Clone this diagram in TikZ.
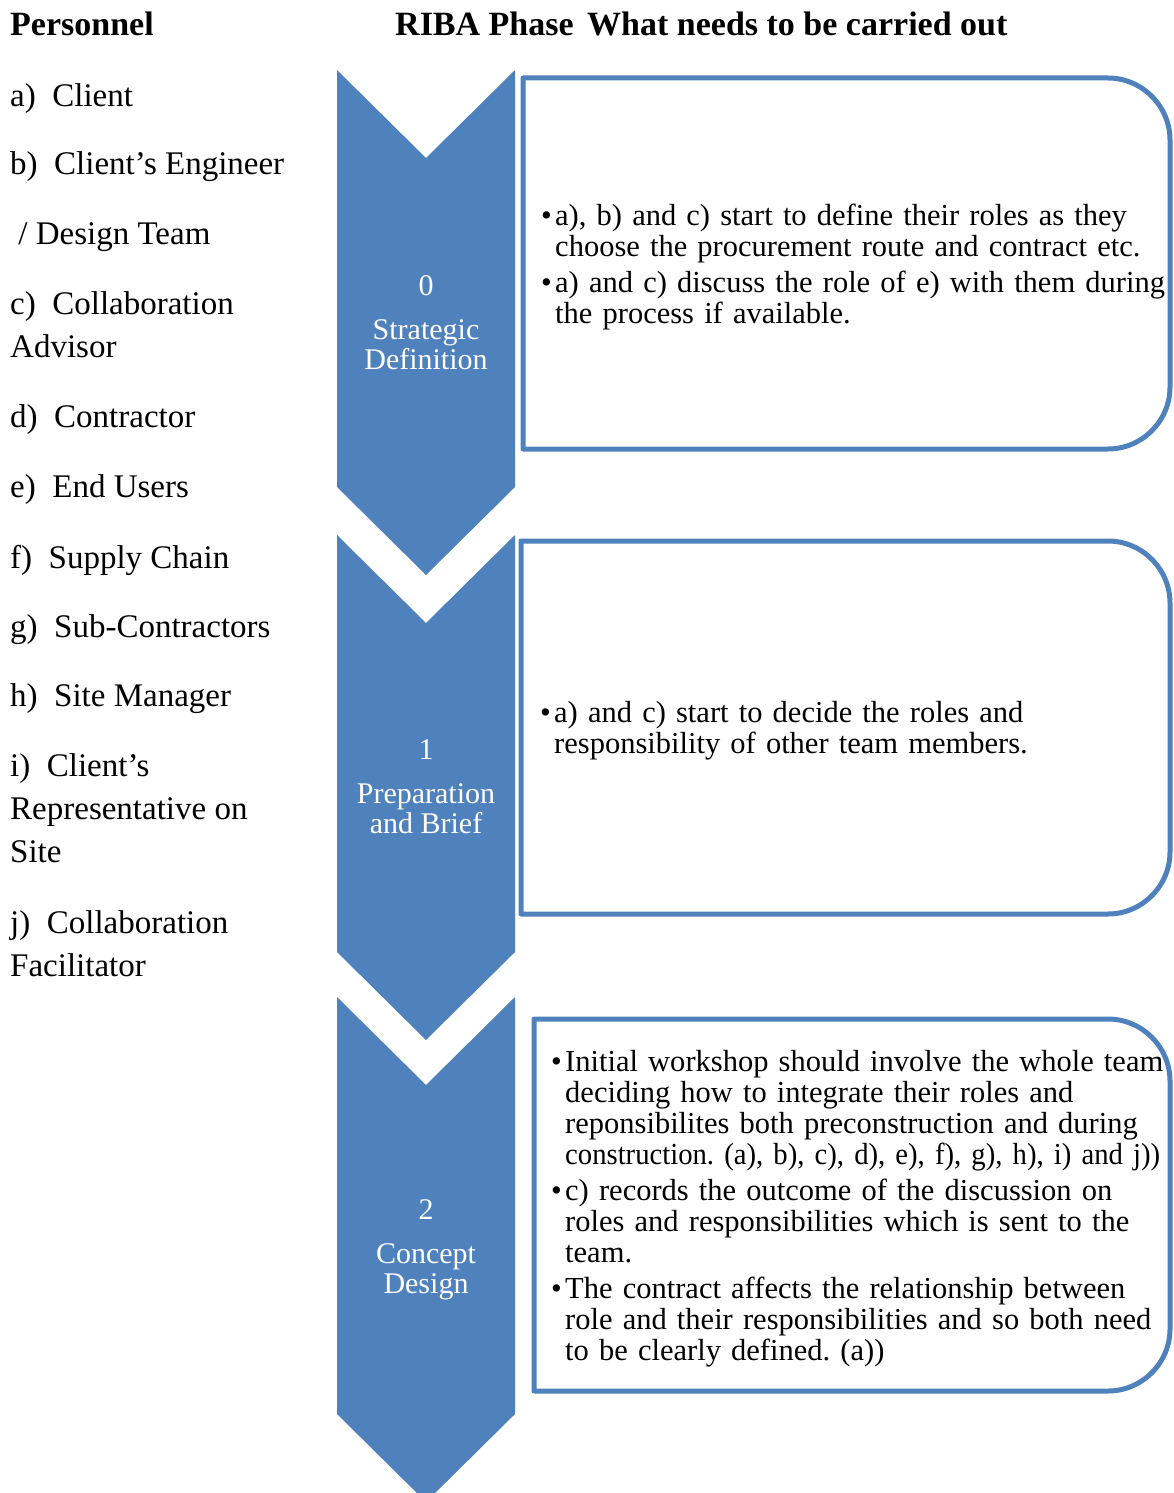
\documentclass[tikz,border=0pt]{standalone}
\usepackage{fontspec}
\setmainfont{Liberation Serif}
\newfontfamily\narrowfont[FakeStretch=0.94]{Liberation Serif}
\usepackage{tikz}
\definecolor{ribablue}{RGB}{79,129,189}
% chevron for one phase, #1 = top of its shoulders
\newcommand{\phasearrow}[1]{\fill[ribablue] (337,#1) -- (426,#1+88) -- (515,#1) -- (515,#1+417) -- (426,#1+505) -- (337,#1+417) -- cycle;}
% box with rounded right corners, #1 = left, #2 = top, #3 = bottom
\newcommand{\rolebox}[3]{\draw[boxline] (#1,#2) -- (1108,#2) .. controls (1142,#2) and (1170,#2+28) .. (1170,#2+62) -- (1170,#3-62) .. controls (1170,#3-28) and (1142,#3) .. (1108,#3) -- (#1,#3) -- cycle;}
\newcommand{\bitem}[1]{\par\hangindent=14pt\hangafter=1\noindent\makebox[14pt][l]{\textbullet}#1\par}

\begin{document}
\hyphenpenalty=10000
\frenchspacing
\begin{tikzpicture}[x=1pt, y=-1pt, boxline/.style={draw=ribablue, line width=5pt, line join=round}]
	\tikzstyle{head}=[anchor=west, inner sep=0pt, font=\fontsize{34}{40}\selectfont\bfseries]
	\tikzstyle{person}=[anchor=west, inner sep=0pt, align=left, font=\fontsize{33}{43}\selectfont]
	\tikzstyle{phaselabel}=[inner sep=0pt, align=center, text=white, font=\fontsize{30}{30}\selectfont]
	\tikzstyle{boxtext}=[anchor=west, inner sep=0pt, text width=800pt, align=left, font=\fontsize{30.5}{31}\selectfont]
	
	\useasboundingbox (0,0) rectangle (1173,1493);
	\clip (0,0) rectangle (1173,1493);
	
	% Draw headings
	\node[head] (hpers) at (10,24) {Personnel};
	\node[head] (hriba) at (395,24) {RIBA Phase};
	\node[head] (hwhat) at (587,24) {What needs to be carried out};
	
	% Draw personnel list
	\node[person] (pa) at (10,99) {a)~ Client};
	\node[person] (pb) at (10,167) {b)~ Client’s Engineer};
	\node[person] (pb2) at (10,237) {~/ Design Team};
	\node[person] (pc) at (10,325) {c)~ Collaboration\\Advisor};
	\node[person] (pd) at (10,420) {d)~ Contractor};
	\node[person] (pe) at (10,490) {e)~ End Users};
	\node[person] (pf) at (10,560) {f)~ Supply Chain};
	\node[person] (pg) at (10,630) {g)~ Sub-Contractors};
	\node[person] (ph) at (10,699) {h)~ Site Manager};
	\node[person] (pi) at (10,808.5) {i)~ Client’s\\Representative on\\Site};
	\node[person] (pj) at (10,944) {j)~ Collaboration\\Facilitator};
	
	% Draw phase chevrons
	\phasearrow{70}
	\phasearrow{535}
	\phasearrow{997}
	\node[phaselabel] (ph0) at (426,323) {0\\[14pt]Strategic\\Definition};
	\node[phaselabel] (ph1) at (426,787) {1\\[14pt]Preparation\\and Brief};
	\node[phaselabel] (ph2) at (426,1250) {2\\[14pt]Concept\\Design};
	
	% Draw boxes
	\rolebox{523}{78}{449}
	\rolebox{521}{541}{914}
	\rolebox{534}{1019}{1391}
	\node[boxtext] (t0) at (541,262) {\bitem{a), b) and c) start to define their roles as they\newline choose the procurement route and contract etc.}\vspace{5pt}\bitem{a) and c) discuss the role of e) with them during\newline the process if available.}};
	\node[boxtext] (t1) at (540,726) {\bitem{a) and c) start to decide the roles and\newline responsibility of other team members.}};
	\node[boxtext] (t2) at (551,1204) {\bitem{Initial workshop should involve the whole team\newline deciding how to integrate their roles and\newline reponsibilites both preconstruction and during\newline {\narrowfont construction. (a), b), c), d), e), f), g), h), i) and j))}}\vspace{5pt}\bitem{c) records the outcome of the discussion on\newline roles and responsibilities which is sent to the\newline team.}\vspace{5pt}\bitem{The contract affects the relationship between\newline role and their responsibilities and so both need\newline to be clearly defined. (a))}};
	
\end{tikzpicture}
\end{document}
